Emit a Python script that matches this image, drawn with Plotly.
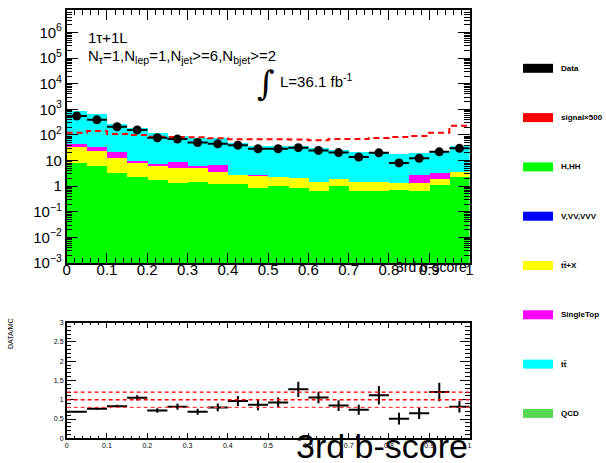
import plotly.graph_objects as go

# ---------------- data ----------------
bin_centers = [0.025, 0.075, 0.125, 0.175, 0.225, 0.275, 0.325, 0.375, 0.425, 0.475,
               0.525, 0.575, 0.625, 0.675, 0.725, 0.775, 0.825, 0.875, 0.925, 0.975]
bin_edges = [0.0, 0.05, 0.1, 0.15, 0.2, 0.25, 0.3, 0.35, 0.4, 0.45, 0.5,
             0.55, 0.6, 0.65, 0.7, 0.75, 0.8, 0.85, 0.9, 0.95, 1.0]
bin_halfwidth = 0.025

data_vals = [550, 390, 210, 158, 78, 69, 51, 45, 40, 29, 29, 32, 25, 20.5, 13.8, 20, 8.1, 12.3, 21.9, 30]
h_hh = [8.4, 6.2, 3.4, 2.2, 1.74, 1.38, 1.5, 1.23, 1.23, 0.87, 1.05, 0.87, 0.62, 1.02, 0.62, 0.62, 0.71, 0.65, 1.12, 2.35]
v_vv_vvv = [0] * 20
ttx = [25.6, 18.3, 9.6, 6.2, 4.46, 3.92, 3.5, 2.47, 1.57, 1.73, 1.3, 1.23, 0.88, 0.88, 0.8, 0.8, 0.62, 0.68, 0.78, 1.2]
singletop = [11, 8.5, 8, 1.6, 1.2, 3.6, 1.2, 3.1, 0, 0.05, 0, 0, 0.02, 0, 0, 0, 0, 1.42, 1.5, 0]
ttbar = [845, 617, 242, 172, 110, 82, 68, 67, 48, 35, 34, 34, 28.5, 24, 20.6, 20.6, 16.3, 16.3, 18.6, 34.5]
qcd = [0] * 20
signal_x500 = [123, 144, 110, 100, 85, 83, 81, 74, 68, 68, 68, 67, 62, 69, 69, 76, 83, 91, 123, 230]

ratio = [0.69, 0.77, 0.83, 1.05, 0.72, 0.82, 0.69, 0.80, 0.97, 0.87,
         0.93, 1.27, 1.06, 0.85, 0.74, 1.12, 0.51, 0.65, 1.20, 0.82]
ratio_err = [0.02, 0.02, 0.04, 0.07, 0.06, 0.08, 0.08, 0.10, 0.13, 0.14,
             0.13, 0.20, 0.15, 0.14, 0.13, 0.24, 0.15, 0.15, 0.24, 0.15]
ratio_ref_lines = [0.8, 1.0, 1.2]

stack_names = ["H,HH", "V,VV,VVV", "tt\u0304+X", "SingleTop", "tt\u0304", "QCD"]
stack_values = [h_hh, v_vv_vvv, ttx, singletop, ttbar, qcd]
stack_colors = ["#00ff00", "#0000ff", "#ffff00", "#ff00ff", "#00ffff", "#55d955"]

legend_labels = ["Data", "signal\u00d7500", "H,HH", "V,VV,VVV", "tt\u0304+X", "SingleTop", "tt\u0304", "QCD"]
legend_colors = ["#000000", "#ff0000", "#00ff00", "#0000ff", "#ffff00", "#ff00ff", "#00ffff", "#55d955"]

y_decades = [-3, -2, -1, 0, 1, 2, 3, 4, 5, 6]
y_ticktext = ["10<sup>\u22123</sup>", "10<sup>\u22122</sup>", "10<sup>\u22121</sup>", "1", "10",
              "10<sup>2</sup>", "10<sup>3</sup>", "10<sup>4</sup>", "10<sup>5</sup>", "10<sup>6</sup>"]
x_tickvals = [0, 0.1, 0.2, 0.3, 0.4, 0.5, 0.6, 0.7, 0.8, 0.9, 1.0]
x_ticktext = ["0", "0.1", "0.2", "0.3", "0.4", "0.5", "0.6", "0.7", "0.8", "0.9", "1"]
ratio_yticks = [0, 0.5, 1, 1.5, 2, 2.5, 3]
ratio_yticktext = ["0", "0.5", "1", "1.5", "2", "2.5", "3"]

FONT = "Liberation Sans, Arial, Helvetica, sans-serif"
W, H = 606, 463

fig = go.Figure()

# stacked histograms
for name, vals, col in zip(stack_names, stack_values, stack_colors):
    fig.add_trace(go.Bar(x=bin_centers, y=vals, width=0.05, name=name,
                         marker=dict(color=col, line=dict(width=0)),
                         xaxis="x", yaxis="y", showlegend=False))

# signal x500 dashed step line
fig.add_trace(go.Scatter(x=bin_edges, y=signal_x500 + [signal_x500[-1]], mode="lines",
                         line=dict(color="#ff0000", width=2, dash="6px,4px", shape="hv"),
                         xaxis="x", yaxis="y", showlegend=False))

# data
fig.add_trace(go.Scatter(x=bin_centers, y=data_vals, mode="markers",
                         marker=dict(color="black", size=9),
                         error_x=dict(type="constant", value=bin_halfwidth, width=0,
                                      thickness=2, color="black"),
                         xaxis="x", yaxis="y", showlegend=False))

# ratio
fig.add_trace(go.Scatter(x=bin_centers, y=ratio, mode="markers",
                         marker=dict(color="black", size=1),
                         error_x=dict(type="constant", value=bin_halfwidth, width=0,
                                      thickness=2, color="black"),
                         error_y=dict(type="data", array=ratio_err, width=0,
                                      thickness=2, color="black"),
                         xaxis="x2", yaxis="y2", showlegend=False))

for i, v in enumerate(ratio_ref_lines):
    fig.add_shape(type="line", xref="x2", yref="y2", x0=0, x1=1, y0=v, y1=v,
                  line=dict(color="#ff0000" if v >= 1 else "#ff4040", width=1.3, dash="4px,3px"),
                  layer="above")

# domains (pixel based)
def px_x(p):
    return p / W

def px_y(p):
    return 1 - p / H

x_dom = [px_x(66.7), px_x(469.5)]

minor_y = []
for d in y_decades:
    for m in range(2, 10):
        minor_y.append(m * 10 ** d)

axis_common = dict(showline=True, linecolor="black", linewidth=1.5, mirror="ticks",
                   ticks="inside", tickcolor="black", showgrid=False, zeroline=False,
                   automargin=False)

fig.update_layout(
    width=W, height=H, margin=dict(l=0, r=0, t=0, b=0, autoexpand=False),
    paper_bgcolor="white", plot_bgcolor="white",
    barmode="stack", bargap=0, showlegend=False,
    font=dict(family=FONT, color="black"),
    xaxis=dict(domain=x_dom, range=[0, 1], anchor="y",
               tickvals=x_tickvals, ticktext=x_ticktext, ticklen=10, tickwidth=1,
               tickfont=dict(size=15, color="black"), ticklabelstandoff=-8,
               minor=dict(dtick=0.02, tick0=0, ticks="inside", ticklen=5, tickcolor="black"),
               **axis_common),
    yaxis=dict(domain=[px_y(263), px_y(10)], type="log", range=[-3, 6.88], anchor="x",
               tickvals=[10 ** d for d in y_decades], ticktext=y_ticktext,
               ticklen=12, tickwidth=1, tickfont=dict(size=15, color="black"),
               minor=dict(tickmode="array", tickvals=minor_y, ticks="inside", ticklen=6,
                          tickcolor="black"),
               **axis_common),
    xaxis2=dict(domain=x_dom, range=[0, 1], anchor="y2",
                tickvals=x_tickvals, ticktext=x_ticktext, ticklen=6, tickwidth=1,
                tickfont=dict(size=7, color="black"),
                minor=dict(dtick=0.02, tick0=0, ticks="inside", ticklen=3, tickcolor="black"),
                **axis_common),
    yaxis2=dict(domain=[px_y(438.3), px_y(322.7)], range=[0, 3], anchor="x2",
                tickvals=ratio_yticks, ticktext=ratio_yticktext, ticklen=10, tickwidth=1,
                tickfont=dict(size=7, color="black"),
                minor=dict(dtick=0.1, tick0=0, ticks="inside", ticklen=5, tickcolor="black"),
                **axis_common),
)

# text annotations
ann = []
ann.append(dict(text="1\u03c4+1L", x=px_x(86), y=px_y(37), xanchor="left", yanchor="middle",
                font=dict(size=15)))
ann.append(dict(text="N<sub>\u03c4</sub>=1,N<sub>lep</sub>=1,N<sub>jet</sub>>=6,N<sub>bjet</sub>>=2",
                x=px_x(86), y=px_y(57), xanchor="left", yanchor="middle", font=dict(size=15)))
ann.append(dict(text="\u222b", x=px_x(266), y=px_y(83), xanchor="center", yanchor="middle",
                font=dict(size=34, family="DejaVu Serif, serif")))
ann.append(dict(text="L=36.1 fb<sup>-1</sup>", x=px_x(278), y=px_y(80), xanchor="left",
                yanchor="middle", font=dict(size=15)))
ann.append(dict(text="3rd b-score", x=px_x(469), y=px_y(267), xanchor="right", yanchor="middle",
                font=dict(size=14)))
ann.append(dict(text="3rd b-score", x=px_x(470), y=px_y(446), xanchor="right", yanchor="middle",
                font=dict(size=34)))
ann.append(dict(text="DATA/MC", x=px_x(10), y=px_y(334), xanchor="center", yanchor="middle",
                textangle=-90, font=dict(size=7)))

# legend
leg_y0 = 68.3
leg_dy = 49.3
for i, (lab, col) in enumerate(zip(legend_labels, legend_colors)):
    yc = leg_y0 + i * leg_dy
    fig.add_shape(type="rect", xref="paper", yref="paper",
                  x0=px_x(523), x1=px_x(553), y0=px_y(yc + 4.5), y1=px_y(yc - 4.5),
                  fillcolor=col, line=dict(width=0))
    ann.append(dict(text="<b>" + lab + "</b>", x=px_x(559), y=px_y(yc), xanchor="left",
                    yanchor="middle", font=dict(size=8)))

for a in ann:
    a.update(xref="paper", yref="paper", showarrow=False)
fig.update_layout(annotations=ann)

fig.write_html("out.html", config={"displayModeBar": False},
               post_script="document.body.style.margin='0px';document.body.style.overflow='hidden';")
